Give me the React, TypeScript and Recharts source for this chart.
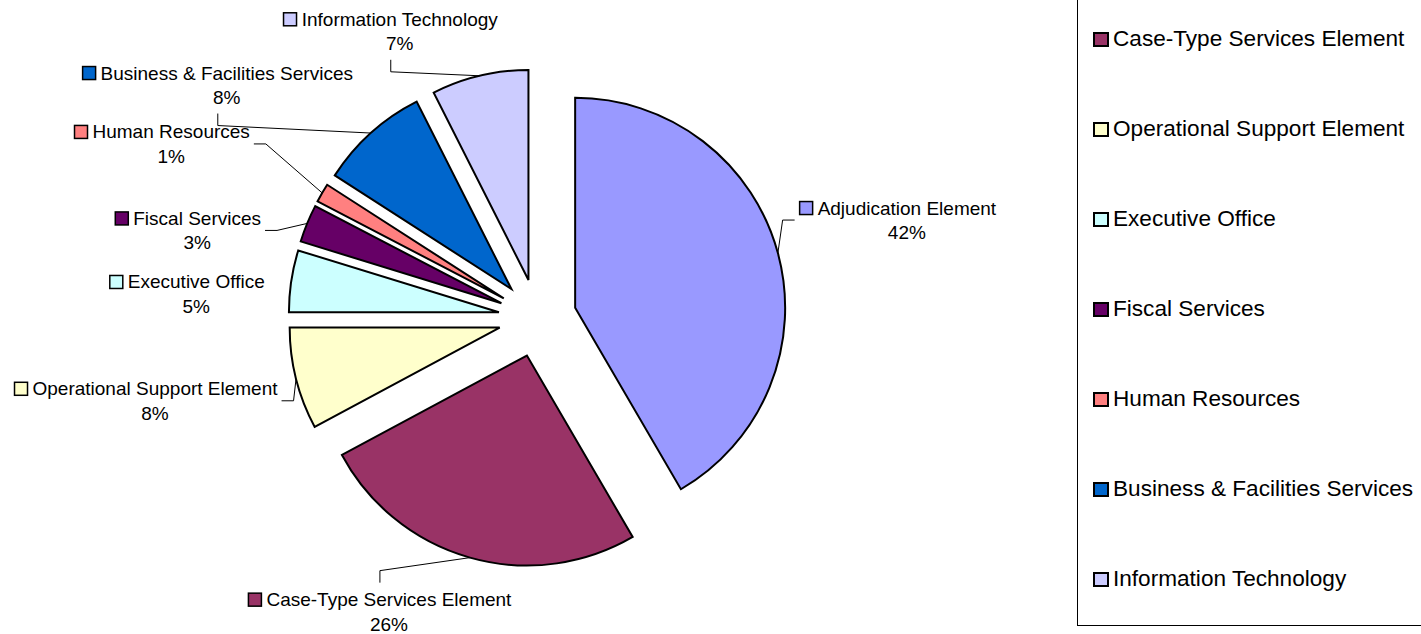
import { PieChart, Pie, Cell, Legend, Sector } from "recharts";

const categories = [
  "Adjudication Element",
  "Case-Type Services Element",
  "Operational Support Element",
  "Executive Office",
  "Fiscal Services",
  "Human Resources",
  "Business & Facilities Services",
  "Information Technology",
];
const shares = [41.6, 25.55, 7.85, 4.75, 2.9, 1.45, 8.45, 7.45];
const colors = ["#9999FF", "#993366", "#FFFFCC", "#CCFFFF", "#660066", "#FF8080", "#0066CC", "#CCCCFF"];

const data = categories.map((name, i) => ({ name, value: shares[i] }));

const RAD = Math.PI / 180;
const EXPLODE = 39;
const FONT = "'Liberation Sans', Arial, Helvetica, sans-serif";
const LABEL_SIZE = 19;
const LEGEND_ROW = 90;

type Leader = "top" | "bottom" | "left" | "right" | "none";

// labels were moved by hand in the original: offset from the slice's outer edge to the label text
const labelLayout: Record<string, { dx: number; dy: number; leader: Leader }> = {
  "Adjudication Element": { dx: 129, dy: -45, leader: "left" },
  "Case-Type Services Element": { dx: -81, dy: 42, leader: "top" },
  "Operational Support Element": { dx: -141, dy: 10, leader: "right" },
  "Executive Office": { dx: -95, dy: 1, leader: "none" },
  "Fiscal Services": { dx: -110, dy: -5, leader: "right" },
  "Human Resources": { dx: -151, dy: -61, leader: "right" },
  "Business & Facilities Services": { dx: -144, dy: -60, leader: "bottom" },
  "Information Technology": { dx: -80, dy: -56.5, leader: "bottom" },
};

let ctx: CanvasRenderingContext2D | null = null;
function textWidth(s: string, size: number) {
  if (!ctx) ctx = document.createElement("canvas").getContext("2d");
  if (!ctx) return s.length * size * 0.5;
  ctx.font = `${size}px ${FONT}`;
  return ctx.measureText(s).width;
}

const ExplodedSlice = (props: any) => {
  const { cx, cy, midAngle } = props;
  const ox = EXPLODE * Math.cos(-midAngle * RAD);
  const oy = EXPLODE * Math.sin(-midAngle * RAD);
  return <Sector {...props} cx={cx + ox} cy={cy + oy} />;
};

const renderLabel = (props: any) => {
  const { cx, cy, midAngle, outerRadius, percent, name, index } = props;
  const r = outerRadius + EXPLODE;
  const ax = cx + r * Math.cos(-midAngle * RAD);
  const ay = cy + r * Math.sin(-midAngle * RAD);
  const lay = labelLayout[name];
  const tx = ax + lay.dx;
  const ty = ay + lay.dy;
  const w = textWidth(name, LABEL_SIZE);
  const left = tx - w / 2 - 18;
  const right = tx + w / 2;
  const bx = (left + right) / 2;
  const pctY = ty + 24.5;

  let pts = "";
  if (lay.leader === "bottom") pts = `${bx},${pctY + 16} ${bx},${pctY + 28} ${ax},${ay}`;
  if (lay.leader === "top") pts = `${bx},${ty - 17} ${bx},${ty - 29} ${ax},${ay}`;
  if (lay.leader === "right") pts = `${right + 4},${ty + 12} ${right + 16},${ty + 12} ${ax},${ay}`;
  if (lay.leader === "left") pts = `${left - 5},${ty + 12} ${left - 17},${ty + 12} ${ax},${ay}`;

  return (
    <g>
      {pts && <polyline points={pts} fill="none" stroke="#000" strokeWidth={1} />}
      <rect x={left} y={ty - 6.5} width={13} height={13} fill={colors[index]} stroke="#000" strokeWidth={1.5} />
      <text x={tx} y={ty} textAnchor="middle" dominantBaseline="central" fontFamily={FONT} fontSize={LABEL_SIZE} fill="#000">
        {name}
      </text>
      <text x={tx} y={pctY} textAnchor="middle" dominantBaseline="central" fontFamily={FONT} fontSize={LABEL_SIZE} fill="#000">
        {`${Math.round(percent * 100)}%`}
      </text>
    </g>
  );
};

// the legend box runs off the top of the picture, so its first row (Adjudication) is out of view
const renderLegend = () => (
  <div
    style={{
      width: 360,
      height: 723,
      border: "1px solid #000",
      boxSizing: "border-box",
      paddingTop: LEGEND_ROW,
      fontFamily: FONT,
      fontSize: 22.6,
      color: "#000",
      background: "#fff",
    }}
  >
    {categories.slice(1).map((name, i) => (
      <div key={name} style={{ height: LEGEND_ROW, display: "flex", alignItems: "center", paddingLeft: 15 }}>
        <span
          style={{
            width: 16,
            height: 15,
            boxSizing: "border-box",
            border: "2px solid #000",
            background: colors[i + 1],
            marginRight: 4,
            flexShrink: 0,
          }}
        />
        {name}
      </div>
    ))}
  </div>
);

export default function App() {
  return (
    <div style={{ position: "absolute", left: 0, top: 0, width: 1421, height: 634, overflow: "hidden", background: "#fff" }}>
      <PieChart width={1421} height={634} margin={{ top: 0, right: 0, bottom: 0, left: 0 }}>
        <Pie
          data={data}
          dataKey="value"
          nameKey="name"
          cx={537.5}
          cy={318}
          outerRadius={210}
          startAngle={90}
          endAngle={-270}
          stroke="#000"
          strokeWidth={2}
          shape={ExplodedSlice}
          label={renderLabel}
          labelLine={false}
          isAnimationActive={false}
        >
          {data.map((d, i) => (
            <Cell key={d.name} fill={colors[i]} />
          ))}
        </Pie>
        <Legend
          layout="vertical"
          align="right"
          verticalAlign="middle"
          content={renderLegend}
          wrapperStyle={{ left: 1077, top: -97, width: 360, height: 723 }}
        />
      </PieChart>
    </div>
  );
}
